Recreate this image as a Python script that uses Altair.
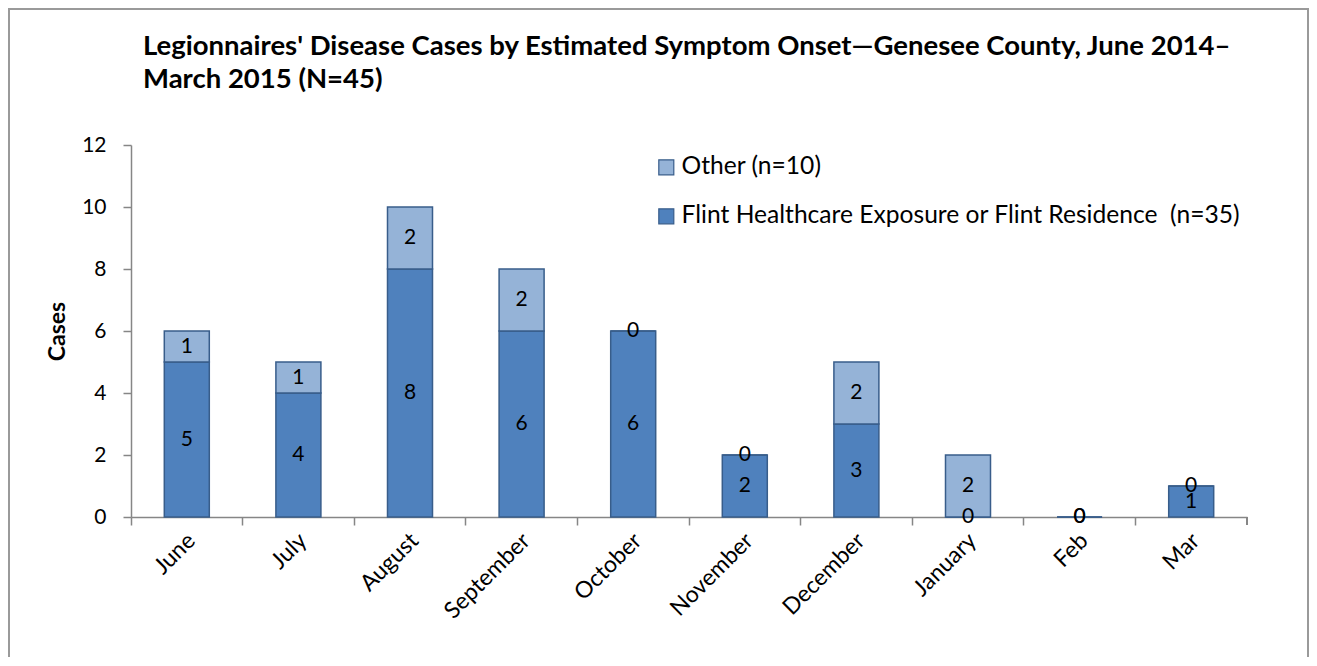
import altair as alt
import pandas as pd

months = ["June", "July", "August", "September", "October", "November",
          "December", "January", "Feb", "Mar"]
flint = [5, 4, 8, 6, 6, 2, 3, 0, 0, 1]
other = [1, 1, 2, 2, 0, 0, 2, 2, 0, 0]
series_names = ["Flint Healthcare Exposure or Flint Residence \u00a0(n=35)", "Other (n=10)"]
series_colors = ["#4F81BD", "#95B3D7"]
y_ticks = [0, 2, 4, 6, 8, 10, 12]
title_lines = ["Legionnaires' Disease Cases by Estimated Symptom Onset\u2014Genesee County, June 2014\u2013",
               "March 2015 (N=45)"]

rows = []
for m, f, o in zip(months, flint, other):
    rows.append({"month": m, "series": series_names[0], "value": f,
                 "y0": 0, "y1": f, "mid": f / 2})
    rows.append({"month": m, "series": series_names[1], "value": o,
                 "y0": f, "y1": f + o, "mid": f + o / 2})
df = pd.DataFrame(rows)

W, H = 1116, 372
FONT = "Lato"
AX = "#868686"

x_enc = alt.X("month:N", sort=months, title=None,
              scale=alt.Scale(paddingInner=0, paddingOuter=0),
              axis=alt.Axis(bandPosition=0, labelOffset=-3, labelAngle=-45,
                            labelFontSize=23, labelFont=FONT, labelColor="#000000",
                            domainColor=AX, tickColor=AX, tickSize=8,
                            labelPadding=4, domainWidth=1.5, tickWidth=1.5))
y_enc = alt.Y("y0:Q", title="Cases",
              scale=alt.Scale(domain=[0, 12], nice=False),
              axis=alt.Axis(values=y_ticks, grid=False, labelFontSize=21, labelFont=FONT,
                            labelColor="#000000", domainColor=AX,
                            tickColor=AX, tickSize=8, labelPadding=17,
                            titleFont=FONT, titleFontSize=23, titleFontWeight="bold",
                            titlePadding=12, domainWidth=1.5, tickWidth=1.5))

bars = alt.Chart(df).mark_bar(width=45, stroke="#385D8A", strokeWidth=1.5).encode(
    x=x_enc,
    y=y_enc,
    y2="y1:Q",
    color=alt.Color("series:N",
                    scale=alt.Scale(domain=series_names, range=series_colors),
                    legend=alt.Legend(title=None, orient="none", legendX=523, legendY=10,
                                      symbolType="square", symbolSize=225,
                                      symbolStrokeColor="#385D8A", symbolStrokeWidth=1.2,
                                      labelFontSize=24.6, labelFont=FONT, labelColor="#000000",
                                      labelOffset=3, rowPadding=24, labelLimit=900,
                                      values=[series_names[1], series_names[0]])),
)

labels = alt.Chart(df).mark_text(fontSize=21, font=FONT, color="#000000", baseline="middle").encode(
    x=alt.X("month:N", sort=months),
    y=alt.Y("mid:Q"),
    text="value:Q",
)

end_tick = alt.Chart(df).mark_rule(color=AX, strokeWidth=1.5).encode(
    x=alt.value(W), y=alt.value(H), y2=alt.value(H + 8))

frame = alt.Chart(df).mark_rect(fill=None, stroke="#9A9A9A", strokeWidth=1.5).encode(
    x=alt.value(-122), x2=alt.value(W + 61), y=alt.value(-136), y2=alt.value(H + 200))

chart = alt.layer(frame, bars, labels, end_tick).properties(
    width=W, height=H,
    title=alt.TitleParams(title_lines, anchor="start", frame="group", dx=12, dy=85,
                          font=FONT, fontSize=27.5, fontWeight="bold", color="#000000",
                          lineHeight=33, offset=0),
    autosize=alt.AutoSizeParams(type="none"),
    padding={"left": 123, "top": 137, "right": 62, "bottom": 140},
).configure_view(stroke=None)

chart.save("out.html", embed_options={"renderer": "svg", "actions": False})
